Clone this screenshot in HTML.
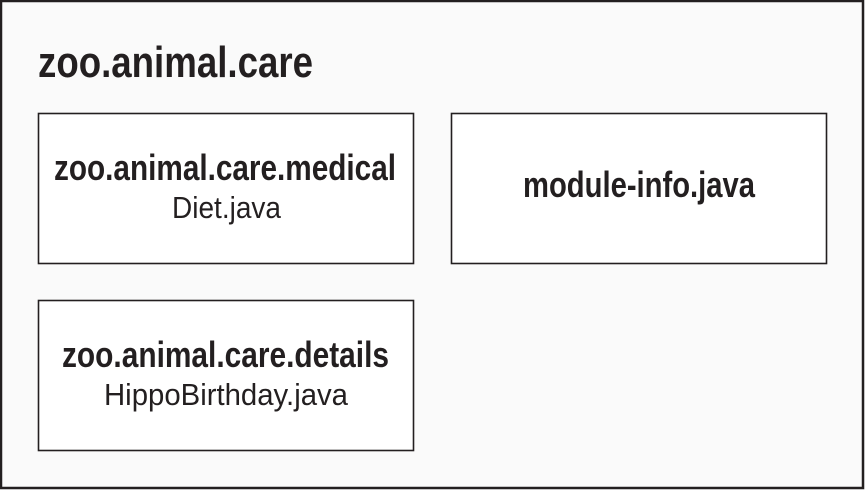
<!DOCTYPE html>
<html><head><meta charset="utf-8"><style>
html,body{margin:0;padding:0;background:#fafafa;}
svg{display:block;}
text{font-family:"Liberation Sans",Arial,sans-serif;fill:#231f20;}
</style></head><body>
<svg width="865" height="490" viewBox="0 0 865 490" xmlns="http://www.w3.org/2000/svg">
<rect x="1" y="1" width="862" height="487" fill="#fafafa" stroke="#231f20" stroke-width="2.5"/>
<text x="38" y="77" font-size="44" font-weight="bold" textLength="275" lengthAdjust="spacingAndGlyphs">zoo.animal.care</text>
<rect x="38.5" y="113.5" width="375" height="150" fill="#fff" stroke="#231f20" stroke-width="1.6"/>
<rect x="451.5" y="113.5" width="375" height="150" fill="#fff" stroke="#231f20" stroke-width="1.6"/>
<rect x="38.5" y="300.5" width="375" height="150" fill="#fff" stroke="#231f20" stroke-width="1.6"/>
<text x="54" y="180" font-size="36" font-weight="bold" textLength="342" lengthAdjust="spacingAndGlyphs">zoo.animal.care.medical</text>
<text x="172" y="218" font-size="31" textLength="109" lengthAdjust="spacingAndGlyphs">Diet.java</text>
<text x="523" y="197" font-size="36" font-weight="bold" textLength="232" lengthAdjust="spacingAndGlyphs">module-info.java</text>
<text x="62" y="367" font-size="36" font-weight="bold" textLength="327" lengthAdjust="spacingAndGlyphs">zoo.animal.care.details</text>
<text x="104" y="405" font-size="31" textLength="244" lengthAdjust="spacingAndGlyphs">HippoBirthday.java</text>
</svg>
</body></html>
